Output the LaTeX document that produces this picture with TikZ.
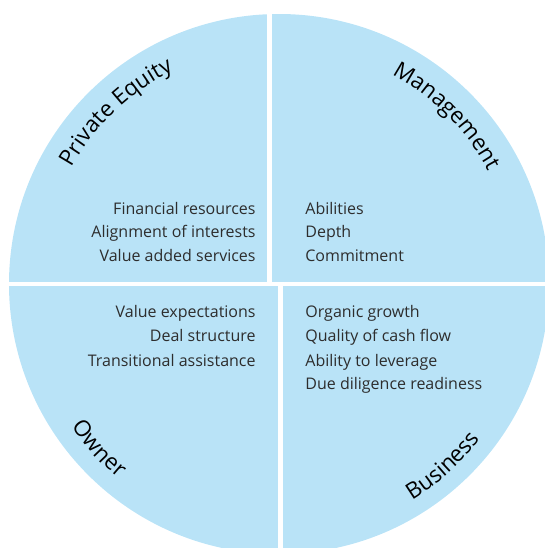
\documentclass[tikz,border=0pt]{standalone}
\usepackage{fontspec}
\setmainfont{Open Sans}
\usetikzlibrary{decorations.text}
\definecolor{quadblue}{RGB}{185,227,247}
\definecolor{itemgray}{RGB}{45,45,45}
\newcommand\ttl{\fontsize{11.2}{14}\selectfont}

\begin{document}
\begin{tikzpicture}[x=0.5pt,y=0.5pt,
    item/.style={font=\fontsize{8}{12}\selectfont,text=itemgray,inner sep=0pt},
    arctext/.style={decorate,decoration={text along path,text align=center,text={|\ttl|#1}}}]
\useasboundingbox (0,0) rectangle (545,548);
\clip (0,0) rectangle (545,548);
\coordinate (c) at (279,264);
% disc and the white gaps between the quarters
\fill[quadblue] (c) circle (270);
\fill[white] (267,264) rectangle (272,548);
\fill[white] (278,0) rectangle (283,264);
\fill[white] (0,262) rectangle (545,266);
% titles along the rim
\path[arctext=Private Equity] ([shift={(c)}]153:238) arc[start angle=153,end angle=114,radius=238];
\path[arctext=Management] ([shift={(c)}]65:238) arc[start angle=65,end angle=25,radius=238];
\path[arctext=Owner] ([shift={(c)}]205:252) arc[start angle=205,end angle=240,radius=252];
\path[arctext=Business] ([shift={(c)}]294:254) arc[start angle=294,end angle=330,radius=254];
% lists
\foreach \t [count=\i] in {Financial resources,Alignment of interests,Value added services}
{
    \node[item,anchor=base east] (pe\i) at (256,358-24*\i) {\t};
}
\foreach \t [count=\i] in {Abilities,Depth,Commitment}
{
    \node[item,anchor=base west] (mg\i) at (305,358-24*\i) {\t};
}
\foreach \t [count=\i] in {Value expectations,Deal structure,Transitional assistance}
{
    \node[item,anchor=base east] (ow\i) at (256,254-24*\i) {\t};
}
\foreach \t [count=\i] in {Organic growth,Quality of cash flow,Ability to leverage,Due diligence readiness}
{
    \node[item,anchor=base west] (bu\i) at (305,254-24*\i) {\t};
}
\end{tikzpicture}
\end{document}
